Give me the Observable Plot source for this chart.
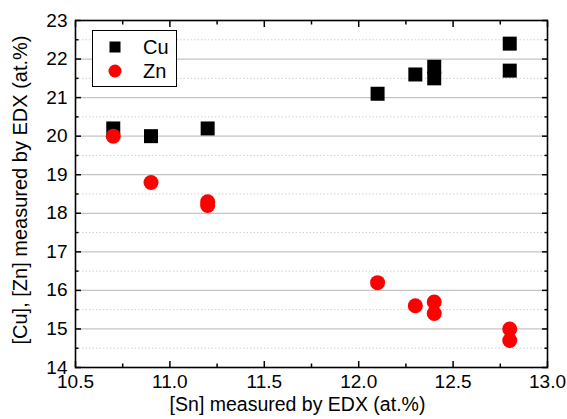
<!DOCTYPE html>
<html>
<head>
<meta charset="utf-8">
<script src="https://cdn.jsdelivr.net/npm/d3@7"></script>
<script src="https://cdn.jsdelivr.net/npm/@observablehq/plot@0.6"></script>
<style>
  html, body { margin: 0; padding: 0; background: #fff; }
  #wrap { position: relative; width: 567px; height: 419px; font-family: "Liberation Sans", Arial, sans-serif; }
  #legend { position: absolute; left: 92px; top: 30px; width: 85px; height: 57px; border: 1px solid #000; background: #fff; box-sizing: border-box; }
  #legend svg { position: absolute; left: 0; top: 0; }
</style>
</head>
<body>
<div id="wrap"></div>
<script>
// Data
const snCu = [10.7, 10.9, 11.2, 12.1, 12.3, 12.4, 12.4, 12.8, 12.8];
const cuValues = [20.2, 20.0, 20.2, 21.1, 21.6, 21.8, 21.5, 22.4, 21.7];
const snZn = [10.7, 10.9, 11.2, 11.2, 12.1, 12.3, 12.4, 12.4, 12.8, 12.8];
const znValues = [20.0, 18.8, 18.3, 18.2, 16.2, 15.6, 15.7, 15.4, 15.0, 14.7];
const xTicks = [10.5, 11.0, 11.5, 12.0, 12.5, 13.0];
const xMinorTicks = [10.75, 11.25, 11.75, 12.25, 12.75];
const yTicks = [14, 15, 16, 17, 18, 19, 20, 21, 22, 23];
const yMinorTicks = [14.5, 15.5, 16.5, 17.5, 18.5, 19.5, 20.5, 21.5, 22.5];
const seriesNames = ["Cu", "Zn"];
const xTitle = "[Sn] measured by EDX (at.%)";
const yTitle = "[Cu], [Zn] measured by EDX (at.%)";

const cuData = snCu.map((x, i) => ({x, y: cuValues[i]}));
const znData = snZn.map((x, i) => ({x, y: znValues[i]}));

const font = "Liberation Sans, Arial, sans-serif";

const chart = Plot.plot({
  width: 567,
  height: 419,
  marginLeft: 75,
  marginRight: 20,
  marginTop: 20,
  marginBottom: 52,
  style: {fontFamily: font, fontSize: "19px", color: "#000", background: "#fff"},
  x: {domain: [10.5, 13], label: null},
  y: {domain: [14, 23], label: null},
  marks: [
    Plot.gridY(yMinorTicks, {stroke: "#d0d0d0", strokeOpacity: 1, strokeDasharray: "1.5,2"}),
    Plot.gridY(yTicks, {stroke: "#c4c4c4", strokeOpacity: 1, strokeWidth: 1.2}),
    // bottom axis
    Plot.axisX(xTicks, {anchor: "bottom", tickSize: -6, tickPadding: 13, tickFormat: d3.format(".1f"), fontSize: 19, strokeWidth: 1.5}),
    Plot.axisX(xMinorTicks, {anchor: "bottom", tickSize: -3.5, tickFormat: () => "", strokeWidth: 1.5}),
    // top axis
    Plot.axisX(xTicks, {anchor: "top", tickSize: -6, tickFormat: () => "", strokeWidth: 1.5}),
    Plot.axisX(xMinorTicks, {anchor: "top", tickSize: -3.5, tickFormat: () => "", strokeWidth: 1.5}),
    // left axis
    Plot.axisY(yTicks, {anchor: "left", tickSize: -6, tickPadding: 14, tickFormat: d3.format("d"), fontSize: 19, strokeWidth: 1.5}),
    Plot.axisY(yMinorTicks, {anchor: "left", tickSize: -3.5, tickFormat: () => "", strokeWidth: 1.5}),
    // right axis
    Plot.axisY(yTicks, {anchor: "right", tickSize: -6, tickFormat: () => "", strokeWidth: 1.5}),
    Plot.axisY(yMinorTicks, {anchor: "right", tickSize: -3.5, tickFormat: () => "", strokeWidth: 1.5}),
    Plot.frame({stroke: "#000", strokeWidth: 1.6}),
    Plot.dot(cuData, {x: "x", y: "y", symbol: "square", r: 7.9, fill: "#000", stroke: null}),
    Plot.dot(znData, {x: "x", y: "y", symbol: "circle", r: 7.5, fill: "#ff0000", stroke: null}),
    Plot.text([xTitle], {frameAnchor: "bottom", text: d => d, dx: -14, dy: 43, fontSize: 19.5, fill: "#000"}),
    Plot.text([yTitle], {frameAnchor: "left", textAnchor: "middle", text: d => d, rotate: -90, dx: -55, dy: -4, fontSize: 20, fill: "#000"})
  ]
});

const wrap = document.getElementById("wrap");
wrap.appendChild(chart);

// Legend (HTML overlay inside the plot area, as in the reference)
const legend = document.createElement("div");
legend.id = "legend";
const ns = "http://www.w3.org/2000/svg";
const lsvg = document.createElementNS(ns, "svg");
lsvg.setAttribute("width", 85);
lsvg.setAttribute("height", 57);
const colors = {Cu: "#000", Zn: "#ff0000"};
seriesNames.forEach((name, i) => {
  const cy = 16 + i * 24;
  let shape;
  if (name === "Cu") {
    shape = document.createElementNS(ns, "rect");
    shape.setAttribute("x", 22 - 5.5);
    shape.setAttribute("y", cy - 5.5);
    shape.setAttribute("width", 11);
    shape.setAttribute("height", 11);
  } else {
    shape = document.createElementNS(ns, "circle");
    shape.setAttribute("cx", 22);
    shape.setAttribute("cy", cy);
    shape.setAttribute("r", 6.5);
  }
  shape.setAttribute("fill", colors[name]);
  lsvg.appendChild(shape);
  const t = document.createElementNS(ns, "text");
  t.setAttribute("x", 50);
  t.setAttribute("y", cy);
  t.setAttribute("dy", "0.35em");
  t.setAttribute("font-family", font);
  t.setAttribute("font-size", "20");
  t.textContent = name;
  lsvg.appendChild(t);
});
legend.appendChild(lsvg);
wrap.appendChild(legend);
</script>
</body>
</html>
